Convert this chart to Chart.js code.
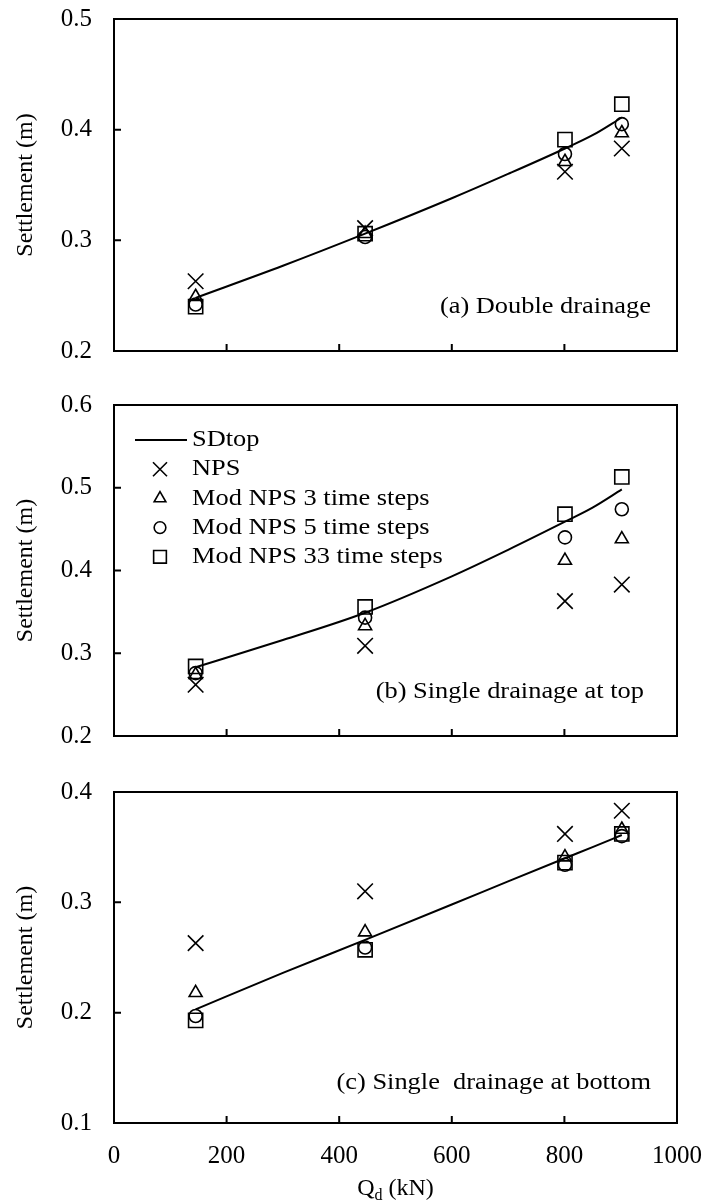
<!DOCTYPE html>
<html><head><meta charset="utf-8">
<script src="https://cdn.jsdelivr.net/npm/chart.js@4/dist/chart.umd.min.js"></script>
<style>
html,body{margin:0;padding:0;background:#fff;}
#wrap{position:relative;width:709px;height:1202px;background:#fff;}
canvas{position:absolute;left:0;}
</style></head><body>
<div id="wrap">
<canvas id="ca" width="709" height="380" style="top:0px"></canvas>
<canvas id="cb" width="709" height="380" style="top:380px"></canvas>
<canvas id="cc" width="709" height="442" style="top:760px"></canvas>
</div>
<script>
// ---------- data ----------
const loadsKN = [145, 446, 801, 902];
const sdLoadsKN = [145, 300, 446, 600, 700, 801, 850, 902];
const xTickValues = [0, 200, 400, 600, 800, 1000];
const seriesNames = ['SDtop', 'NPS', 'Mod NPS 3 time steps', 'Mod NPS 5 time steps', 'Mod NPS 33 time steps'];

// (a) Double drainage
const sdA    = [0.248, 0.277, 0.306, 0.338, 0.360, 0.383, 0.395, 0.411];
const npsA   = [0.263, 0.311, 0.362, 0.383];
const mod3A  = [0.249, 0.306, 0.371, 0.397];
const mod5A  = [0.242, 0.303, 0.378, 0.405];
const mod33A = [0.240, 0.306, 0.391, 0.423];
const yTicksA = [0.2, 0.3, 0.4, 0.5];

// (b) Single drainage at top
const sdB    = [0.283, 0.316, 0.349, 0.393, 0.425, 0.459, 0.476, 0.498];
const npsB   = [0.262, 0.309, 0.363, 0.383];
const mod3B  = [0.274, 0.333, 0.412, 0.438];
const mod5B  = [0.276, 0.343, 0.440, 0.474];
const mod33B = [0.284, 0.356, 0.468, 0.513];
const yTicksB = [0.2, 0.3, 0.4, 0.5, 0.6];

// (c) Single drainage at bottom
const sdC    = [0.203, 0.236, 0.266, 0.298, 0.319, 0.340, 0.350, 0.361];
const npsC   = [0.263, 0.310, 0.362, 0.383];
const mod3C  = [0.218, 0.273, 0.341, 0.366];
const mod5C  = [0.197, 0.259, 0.334, 0.360];
const mod33C = [0.193, 0.257, 0.336, 0.362];
const yTicksC = [0.1, 0.2, 0.3, 0.4];

// ---------- helpers ----------
const FONT = "'Liberation Serif', 'Times New Roman', serif";
const TEXT_STRETCH = 1.1;
const pts = (xs, ys) => xs.map((x, i) => ({x: x, y: ys[i]}));
const markerStyles = [
  {pointStyle: 'crossRot', radius: 11},
  {pointStyle: 'triangle', radius: 7.5},
  {pointStyle: 'circle', radius: 6.5},
  {pointStyle: 'rect', radius: 10}
];

function stretchedText(ctx, text, x, y, align) {
  const w = ctx.measureText(text).width * TEXT_STRETCH;
  const x0 = align === 'right' ? x - w : x;
  ctx.save();
  ctx.translate(x0, y);
  ctx.scale(TEXT_STRETCH, 1);
  ctx.textAlign = 'left';
  ctx.fillText(text, 0, 0);
  ctx.restore();
}

function framePlugin(cfg) {
  return {
    id: 'frame' + cfg.id,
    afterDraw(chart) {
      const ctx = chart.ctx, a = chart.chartArea;
      const xs = chart.scales.x, ys = chart.scales.y;
      ctx.save();
      ctx.strokeStyle = '#000';
      ctx.lineWidth = 2;
      ctx.strokeRect(a.left, a.top, a.right - a.left, a.bottom - a.top);
      // inside tick marks
      ctx.beginPath();
      xs.ticks.forEach(t => {
        const px = xs.getPixelForValue(t.value);
        if (px > a.left + 2 && px < a.right - 2) { ctx.moveTo(px, a.bottom); ctx.lineTo(px, a.bottom - 7); }
      });
      ys.ticks.forEach(t => {
        const py = ys.getPixelForValue(t.value);
        if (py > a.top + 2 && py < a.bottom - 2) { ctx.moveTo(a.left, py); ctx.lineTo(a.left + 7, py); }
      });
      ctx.stroke();
      // panel caption
      ctx.fillStyle = '#000';
      ctx.font = '24px ' + FONT;
      ctx.textBaseline = 'middle';
      stretchedText(ctx, cfg.caption, a.right - cfg.capRight, a.bottom - cfg.capUp, 'right');
      // legend
      if (cfg.legend) {
        const lx = 135, tx = 192;
        let ly = a.top + 35;
        const step = 29.2;
        ctx.beginPath();
        ctx.lineWidth = 2;
        ctx.moveTo(lx, ly); ctx.lineTo(187, ly); ctx.stroke();
        stretchedText(ctx, seriesNames[0], tx, ly, 'left');
        for (let i = 0; i < 4; i++) {
          ly += step;
          const m = markerStyles[i];
          ctx.strokeStyle = '#000';
          ctx.fillStyle = 'rgba(0,0,0,0)';
          ctx.lineWidth = 1.6;
          Chart.helpers.drawPoint(ctx, {pointStyle: m.pointStyle, radius: m.radius * 0.9, rotation: 0, borderWidth: 1.6}, 160, ly);
          ctx.fillStyle = '#000';
          stretchedText(ctx, seriesNames[i + 1], tx, ly, 'left');
        }
      }
      // x axis title with subscript
      if (cfg.xTitle) {
        const cx = (a.left + a.right) / 2, cy = a.bottom + 64;
        ctx.fillStyle = '#000';
        ctx.textBaseline = 'alphabetic';
        ctx.textAlign = 'left';
        const big = '24px ' + FONT, small = '16px ' + FONT;
        ctx.font = big; const wQ = ctx.measureText('Q').width; const wK = ctx.measureText(' (kN)').width;
        ctx.font = small; const wd = ctx.measureText('d').width;
        let sx = cx - (wQ + wd + wK) / 2;
        const base = cy + 8;
        ctx.font = big; ctx.fillText('Q', sx, base); sx += wQ;
        ctx.font = small; ctx.fillText('d', sx, base + 5); sx += wd;
        ctx.font = big; ctx.fillText(' (kN)', sx, base);
      }
      ctx.restore();
    }
  };
}

function makeChart(cfg) {
  const ds = [
    {label: seriesNames[0], type: 'line', data: pts(sdLoadsKN, cfg.sd), borderColor: '#000', borderWidth: 2,
     pointRadius: 0, fill: false, showLine: true, cubicInterpolationMode: 'monotone', order: 5}
  ];
  cfg.marks.forEach((arr, i) => {
    ds.push({label: seriesNames[i + 1], data: pts(loadsKN, arr), pointStyle: markerStyles[i].pointStyle,
      pointRadius: markerStyles[i].radius, borderColor: '#000', borderWidth: 1.6,
      backgroundColor: 'rgba(0,0,0,0)', showLine: false, order: 4 - i});
  });
  new Chart(document.getElementById(cfg.id), {
    type: 'scatter',
    data: {datasets: ds},
    options: {
      responsive: false, animation: false, devicePixelRatio: 1,
      layout: {padding: {top: cfg.padTop, right: 32, bottom: cfg.padBottom, left: 0}},
      plugins: {legend: {display: false}, tooltip: {enabled: false}},
      scales: {
        x: {
          type: 'linear', min: 0, max: 1000,
          afterBuildTicks: s => { s.ticks = xTickValues.map(v => ({value: v})); },
          grid: {display: false, drawTicks: false}, border: {display: false},
          ticks: {display: cfg.showX, color: '#000', font: {family: FONT, size: 25}, padding: 18,
                  maxRotation: 0, autoSkip: false, callback: v => String(v)},
          afterFit: s => { s.height = cfg.xHeight; s.paddingLeft = 0; s.paddingRight = 0; }
        },
        y: {
          type: 'linear', min: cfg.yTicks[0], max: cfg.yTicks[cfg.yTicks.length - 1],
          afterBuildTicks: s => { s.ticks = cfg.yTicks.map(v => ({value: v})); },
          grid: {display: false, drawTicks: false}, border: {display: false},
          ticks: {color: '#000', font: {family: FONT, size: 25}, padding: 22, callback: v => Number(v).toFixed(1)},
          title: {display: true, text: 'Settlement (m)', color: '#000', font: {family: FONT, size: 24, lineHeight: 1.2}, padding: {top: 11, bottom: 0}},
          afterFit: s => { s.width = 114; s.paddingTop = 0; s.paddingBottom = 0; }
        }
      }
    },
    plugins: [framePlugin(cfg)]
  });
}

makeChart({id: 'ca', sd: sdA, marks: [npsA, mod3A, mod5A, mod33A], yTicks: yTicksA, padTop: 19, padBottom: 29,
  showX: false, xHeight: 0, caption: '(a) Double drainage', capRight: 26, capUp: 44, legend: false, xTitle: false});
makeChart({id: 'cb', sd: sdB, marks: [npsB, mod3B, mod5B, mod33B], yTicks: yTicksB, padTop: 25, padBottom: 24,
  showX: false, xHeight: 0, caption: '(b) Single drainage at top', capRight: 33, capUp: 44, legend: true, xTitle: false});
makeChart({id: 'cc', sd: sdC, marks: [npsC, mod3C, mod5C, mod33C], yTicks: yTicksC, padTop: 32, padBottom: 0,
  showX: true, xHeight: 79, caption: '(c) Single  drainage at bottom', capRight: 26, capUp: 40, legend: false, xTitle: true});
</script>
</body></html>
